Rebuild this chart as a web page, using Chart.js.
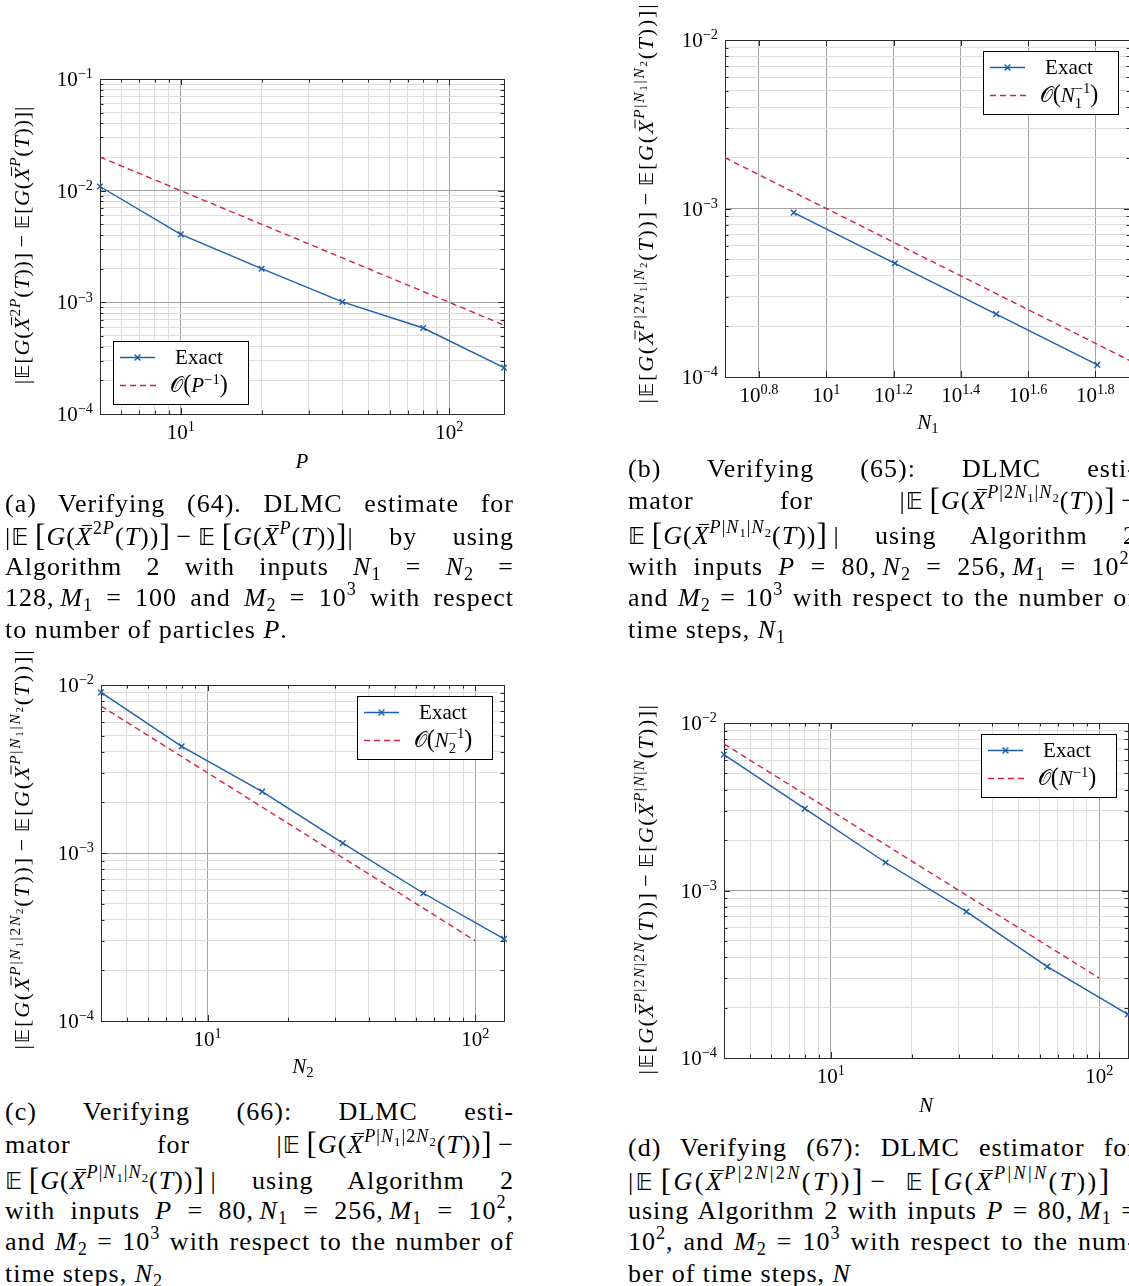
<!DOCTYPE html>
<html>
<head>
<meta charset="utf-8">
<script src="https://cdn.jsdelivr.net/npm/chart.js@4.4.1/dist/chart.umd.min.js"></script>
<style>
html, body { margin: 0; padding: 0; background: #fff; }
body { position: relative; width: 1129px; height: 1286px; overflow: hidden; color: #000;
       font-family: "Liberation Serif", "DejaVu Serif", serif; }
canvas { position: absolute; }
.yt, .xt { position: absolute; white-space: nowrap; font-size: 21px; line-height: 24px; }
.yt { transform: translate(-50%, -50%) rotate(-90deg); font-size: 22px; letter-spacing: .8px; }
.xt { transform: translate(-50%, -50%); }
.sp { font-size: .7em; position: relative; top: -.6em; }
.sb { font-size: .7em; position: relative; top: .3em; }
.ov { position: relative; }
.ov::after { content: ""; position: absolute; left: .24em; right: .02em; top: .1em; border-top: .055em solid currentColor; }
.bb { font-family: "DejaVu Sans", sans-serif; font-size: .9em; }
.s { display: inline-block; width: .22em; }
.bg { font-size: 1.2em; position: relative; top: .04em; }
.cap { position: absolute; width: 509px; font-size: 26px; letter-spacing: 1px; }
.cap div { position: absolute; left: 0; width: 509px; height: 32px; line-height: 32px; white-space: nowrap;
           text-align: justify; text-align-last: justify; }
.cap div.last { text-align-last: left; }
.cap div.wide { letter-spacing: 2.4px; }
</style>
</head>
<body>
<canvas id="cA" width="540" height="420" style="left:0px;top:50px"></canvas>
<canvas id="cB" width="520" height="420" style="left:640px;top:0px"></canvas>
<canvas id="cC" width="540" height="420" style="left:0px;top:660px"></canvas>
<canvas id="cD" width="520" height="410" style="left:640px;top:700px"></canvas>
<div id="text"></div>
<script>
// values
const particlesP = [5, 10, 20, 40, 80, 160];
const exactA = [0.0109, 0.00406, 0.00200, 0.00101, 0.000589, 0.000260];
const refPA = [5, 160];
const refA = [0.02, 0.000625];

const stepsN1 = [8, 16, 32, 64];
const exactB = [0.000946, 0.000473, 0.000236, 0.000118];
const refNB = [5, 80];
const refB = [0.002, 0.000125];

const stepsN2 = [4, 8, 16, 32, 64, 128];
const exactC = [0.00904, 0.00431, 0.00232, 0.001145, 0.000576, 0.000308];
const refNC = [4, 100];
const refC = [0.0075, 0.0003];

const stepsN = [4, 8, 16, 32, 64, 128];
const exactD = [0.00647, 0.00308, 0.00147, 0.000748, 0.000351, 0.000182];
const refND = [4, 100];
const refD = [0.0075, 0.0003];

// labelled ticks (exponents of 10)
const xExpA = [1, 2];
const yExpA = [-4, -3, -2, -1];
const xExpB = [0.8, 1, 1.2, 1.4, 1.6, 1.8];
const yExpB = [-4, -3, -2];
const xExpCD = [1, 2];
const yExpCD = [-4, -3, -2];

const BLUE = '#1c5fab';
const RED = '#d8203c';
const FONT = '"Liberation Serif", "DejaVu Serif", serif';

function gridTicks(lo, hi) {
  const out = [];
  for (let k = Math.floor(Math.log10(lo)) - 1; k <= Math.ceil(Math.log10(hi)); k++) {
    for (let m = 1; m <= 9; m++) {
      const v = m * Math.pow(10, k);
      if (v >= lo * 0.9999 && v <= hi * 1.0001) out.push({ value: v, major: m === 1 });
    }
  }
  return out;
}
function fnt(sz, it) { return (it ? 'italic ' : '') + sz + 'px ' + FONT; }
function expLabel(e) { return String(e).replace('-', '\u2212'); }

// tiny rich text: parts are {t, it, k, dy} or {up, dn}
function partWidth(ctx, p, base) {
  if (p.t !== undefined) { ctx.font = fnt(base * (p.k || 1), p.it); return ctx.measureText(p.t).width; }
  ctx.font = fnt(base * 0.7, false);
  return Math.max(p.up ? ctx.measureText(p.up).width : 0, p.dn ? ctx.measureText(p.dn).width : 0);
}
function drawRich(ctx, parts, x, y, base, align) {
  const ws = parts.map(p => partWidth(ctx, p, base));
  const tot = ws.reduce((a, b) => a + b, 0);
  let cx = align === 'center' ? x - tot / 2 : (align === 'right' ? x - tot : x);
  ctx.textAlign = 'left';
  ctx.textBaseline = 'alphabetic';
  parts.forEach((p, i) => {
    if (p.t !== undefined) {
      ctx.font = fnt(base * (p.k || 1), p.it);
      ctx.fillText(p.t, cx, y + (p.dy || 0) * base);
    } else {
      ctx.font = fnt(base * 0.7, false);
      if (p.up) ctx.fillText(p.up, cx, y - (p.dn ? 0.45 : 0.4) * base);
      if (p.dn) ctx.fillText(p.dn, cx, y + 0.27 * base);
    }
    cx += ws[i];
  });
}

const deco = {
  id: 'deco',
  beforeDatasetsDraw(chart, args, o) {
    const { ctx, chartArea: a, scales } = chart;
    ctx.save();
    ctx.strokeStyle = '#2a2a2a';
    ctx.lineWidth = 1;
    ctx.beginPath();
    scales.x.ticks.forEach(t => {
      const p = Math.round(scales.x.getPixelForValue(t.value)) + 0.5;
      const len = t.major ? 6 : 3.5;
      ctx.moveTo(p, a.bottom); ctx.lineTo(p, a.bottom - len);
      ctx.moveTo(p, a.top); ctx.lineTo(p, a.top + len);
    });
    scales.y.ticks.forEach(t => {
      const p = Math.round(scales.y.getPixelForValue(t.value)) + 0.5;
      const len = t.major ? 6 : 3.5;
      ctx.moveTo(a.left, p); ctx.lineTo(a.left + len, p);
      ctx.moveTo(a.right, p); ctx.lineTo(a.right - len, p);
    });
    ctx.stroke();
    ctx.strokeRect(a.left + 0.5, a.top + 0.5, a.right - a.left, a.bottom - a.top);
    ctx.restore();
  },
  afterDraw(chart, args, o) {
    const { ctx, chartArea: a, scales } = chart;
    ctx.save();
    ctx.fillStyle = '#000';
    o.xExp.forEach(e => {
      const px = scales.x.getPixelForValue(Math.pow(10, e));
      drawRich(ctx, [{ t: '10' }, { t: expLabel(e), k: 0.68, dy: -0.36 }], px, a.bottom + 25, 21, 'center');
    });
    o.yExp.forEach(e => {
      const py = scales.y.getPixelForValue(Math.pow(10, e));
      drawRich(ctx, [{ t: '10' }, { t: expLabel(e), k: 0.68, dy: -0.36 }], a.left - 7, py + 7, 21, 'right');
    });
    // legend box
    const lg = o.legend;
    const w = 135, h = 63;
    const bx = lg.corner === 'sw' ? a.left + 13 : a.right - 12 - w;
    const by = lg.corner === 'sw' ? a.bottom - 10 - h : a.top + 11;
    ctx.fillStyle = '#fff';
    ctx.fillRect(bx, by, w, h);
    ctx.strokeStyle = '#000';
    ctx.lineWidth = 1;
    ctx.strokeRect(bx + 0.5, by + 0.5, w, h);
    const r1 = by + 16.5, r2 = by + 44.5;
    ctx.lineWidth = 1.4;
    ctx.strokeStyle = BLUE;
    ctx.beginPath(); ctx.moveTo(bx + 7, r1); ctx.lineTo(bx + 42, r1); ctx.stroke();
    const mx = bx + 24.5, d = 2.9;
    ctx.beginPath();
    ctx.moveTo(mx - d, r1 - d); ctx.lineTo(mx + d, r1 + d);
    ctx.moveTo(mx - d, r1 + d); ctx.lineTo(mx + d, r1 - d);
    ctx.stroke();
    ctx.strokeStyle = RED;
    ctx.setLineDash([6, 4]);
    ctx.beginPath(); ctx.moveTo(bx + 7, r2); ctx.lineTo(bx + 44, r2); ctx.stroke();
    ctx.setLineDash([]);
    ctx.fillStyle = '#000';
    drawRich(ctx, [{ t: 'Exact' }], bx + 86, r1 + 6.5, 21, 'center');
    drawRich(ctx, lg.parts, bx + 86, r2 + 6.5, 21, 'center');
    ctx.restore();
  }
};

function makeChart(id, box, area, xr, yr, xs, ys, rx, ry, xTicks, xExp, yExp, legend) {
  const pts = xs.map((x, i) => ({ x: x, y: ys[i] }));
  const ref = rx.map((x, i) => ({ x: x, y: ry[i] }));
  const yTicks = gridTicks(yr[0], yr[1]);
  return new Chart(document.getElementById(id), {
    type: 'line',
    data: {
      datasets: [
        { data: pts, borderColor: BLUE, borderWidth: 1.4, pointStyle: 'crossRot', pointRadius: 4,
          pointBorderWidth: 1.4, pointBorderColor: BLUE, pointBackgroundColor: BLUE, tension: 0, clip: false },
        { data: ref, borderColor: RED, borderWidth: 1.4, borderDash: [6, 4], pointRadius: 0, tension: 0 }
      ]
    },
    options: {
      responsive: false,
      animation: false,
      devicePixelRatio: 1,
      layout: {
        autoPadding: false,
        padding: { left: area.l - box.x, top: area.t - box.y, right: box.x + box.w - area.r, bottom: box.y + box.h - area.b }
      },
      plugins: {
        legend: { display: false },
        tooltip: { enabled: false },
        deco: { xExp: xExp, yExp: yExp, legend: legend }
      },
      scales: {
        x: {
          type: 'logarithmic', min: xr[0], max: xr[1],
          ticks: { display: false, autoSkip: false },
          afterBuildTicks: s => { s.ticks = xTicks.map(t => ({ value: t.value, major: t.major })); },
          afterFit: s => { s.height = 0; },
          grid: { color: c => (c.tick && c.tick.major ? '#a3a3a3' : '#dddddd'), lineWidth: 1, drawTicks: false },
          border: { display: false }
        },
        y: {
          type: 'logarithmic', min: yr[0], max: yr[1],
          ticks: { display: false, autoSkip: false },
          afterBuildTicks: s => { s.ticks = yTicks.map(t => ({ value: t.value, major: t.major })); },
          afterFit: s => { s.width = 0; },
          grid: { color: c => (c.tick && c.tick.major ? '#a3a3a3' : '#dddddd'), lineWidth: 1, drawTicks: false },
          border: { display: false }
        }
      }
    },
    plugins: [deco]
  });
}

const SCR = { t: '\u{1D4AA}' };
makeChart('cA', { x: 0, y: 50, w: 540, h: 420 }, { l: 100, t: 79, r: 504, b: 414 }, [5, 160], [1e-4, 1e-1],
  particlesP, exactA, refPA, refA, gridTicks(5, 160), xExpA, yExpA,
  { corner: 'sw', parts: [SCR, { t: '(', k: 1.15 }, { t: 'P', it: true }, { up: '\u22121' }, { t: ')', k: 1.15 }] });
makeChart('cB', { x: 640, y: 0, w: 520, h: 420 }, { l: 725, t: 40, r: 1130, b: 377 }, [5, 80], [1e-4, 1e-2],
  stepsN1, exactB, refNB, refB, xExpB.map(e => ({ value: Math.pow(10, e), major: true })), xExpB, yExpB,
  { corner: 'ne', parts: [SCR, { t: '(', k: 1.15 }, { t: 'N', it: true }, { up: '\u22121', dn: '1' }, { t: ')', k: 1.15 }] });
makeChart('cC', { x: 0, y: 660, w: 540, h: 420 }, { l: 101, t: 685, r: 504, b: 1021 }, [4, 128], [1e-4, 1e-2],
  stepsN2, exactC, refNC, refC, gridTicks(4, 128), xExpCD, yExpCD,
  { corner: 'ne', parts: [SCR, { t: '(', k: 1.15 }, { t: 'N', it: true }, { up: '\u22121', dn: '2' }, { t: ')', k: 1.15 }] });
makeChart('cD', { x: 640, y: 700, w: 520, h: 410 }, { l: 724, t: 723, r: 1128, b: 1058 }, [4, 128], [1e-4, 1e-2],
  stepsN, exactD, refND, refD, gridTicks(4, 128), xExpCD, yExpCD,
  { corner: 'ne', parts: [SCR, { t: '(', k: 1.15 }, { t: 'N', it: true }, { up: '\u22121' }, { t: ')', k: 1.15 }] });

// ---- axis titles and captions (HTML text) ----
const E = '<span class="bb">\u{1D53C}</span>';
const Xb = '<span class="ov"><i>X</i></span>';
const sup = s => '<span class="sp">' + s + '</span>';
const sub = s => '<span class="sb">' + s + '</span>';
const it = s => '<i>' + s + '</i>';
const sp = '<span class="s"></span>';
const Lb = '<span class="bg">[</span>', Rb = '<span class="bg">]</span>';
const ex = up => E + sp + Lb + it('G') + '(' + Xb + sup(up) + '(' + it('T') + '))' + Rb;
const exPlain = up => E + '[' + it('G') + '(' + Xb + sup(up) + '(' + it('T') + '))]';
const minus = sp + '\u2212' + sp;
const N1 = it('N') + sub('1'), N2 = it('N') + sub('2');
const M1 = it('M') + sub('1'), M2 = it('M') + sub('2');
const up_P = it('P'), up_2P = '2' + it('P');
const up_b = it('P') + '|2' + N1 + '|' + N2;
const up_n = it('P') + '|' + N1 + '|' + N2;
const up_c = it('P') + '|' + N1 + '|2' + N2;
const up_d2 = it('P') + '|2' + it('N') + '|2' + it('N');
const up_d = it('P') + '|' + it('N') + '|' + it('N');

// [x, y, letter-spacing, markup]
const yTitles = [
  [23, 245, 0.8, '|' + exPlain(up_2P) + minus + exPlain(up_P) + '|'],
  [647, 203, 1.8, '|' + exPlain(up_b) + minus + exPlain(up_n) + '|'],
  [23, 849, 1.8, '|' + exPlain(up_c) + minus + exPlain(up_n) + '|'],
  [647, 889, 1.5, '|' + exPlain(up_d2) + minus + exPlain(up_d) + '|']
];
const xTitles = [
  [302, 461, it('P')],
  [928, 423, N1],
  [303, 1067, N2],
  [926, 1105, it('N')]
];
const captions = [
  [5, [488, 519, 551, 582, 614], [
    '(a) Verifying (64). DLMC estimate for',
    '|' + ex(up_2P) + minus + ex(up_P) + '| by using',
    'Algorithm 2 with inputs ' + N1 + ' = ' + N2 + ' =',
    '128,' + sp + M1 + ' = 100 and ' + M2 + ' = 10' + sup('3') + ' with respect',
    'to number of particles ' + it('P') + '.'
  ]],
  [628, [453, 483, 518, 551, 582, 614], [
    '(b) Verifying (65): DLMC esti-',
    'mator for |' + ex(up_b) + sp + '\u2212',
    ex(up_n) + sp + '| using Algorithm 2',
    'with inputs ' + it('P') + ' = 80,' + sp + N2 + ' = 256,' + sp + M1 + ' = 10' + sup('2') + ',',
    'and ' + M2 + ' = 10' + sup('3') + ' with respect to the number of',
    'time steps, ' + N1
  ]],
  [5, [1096, 1127, 1163, 1195, 1226, 1258], [
    '(c) Verifying (66): DLMC esti-',
    'mator for |' + ex(up_c) + sp + '\u2212',
    ex(up_n) + sp + '| using Algorithm 2',
    'with inputs ' + it('P') + ' = 80,' + sp + N1 + ' = 256,' + sp + M1 + ' = 10' + sup('2') + ',',
    'and ' + M2 + ' = 10' + sup('3') + ' with respect to the number of',
    'time steps, ' + N2
  ]],
  [628, [1132, 1164, 1195, 1226, 1258], [
    '(d) Verifying (67): DLMC estimator for',
    '|' + ex(up_d2) + sp + '\u2212 ' + ex(up_d) + ' |',
    'using Algorithm 2 with inputs ' + it('P') + ' = 80,' + sp + M1 + ' =',
    '10' + sup('2') + ', and ' + M2 + ' = 10' + sup('3') + ' with respect to the num-',
    'ber of time steps, ' + it('N')
  ]]
];

let html = '';
yTitles.forEach(t => {
  html += '<div class="yt" style="left:' + t[0] + 'px;top:' + t[1] + 'px;letter-spacing:' + t[2] + 'px">' + t[3] + '</div>';
});
xTitles.forEach(t => { html += '<div class="xt" style="left:' + t[0] + 'px;top:' + t[1] + 'px">' + t[2] + '</div>'; });
captions.forEach((c, k) => {
  html += '<div class="cap" style="left:' + c[0] + 'px;top:0px">';
  c[2].forEach((line, i) => {
    let cls = i === c[2].length - 1 ? 'last' : '';
    if (k === 3 && i === 1) cls = 'wide';
    html += '<div class="' + cls + '" style="top:' + c[1][i] + 'px">' + line + '</div>';
  });
  html += '</div>';
});
document.getElementById('text').innerHTML = html;
</script>
</body>
</html>
